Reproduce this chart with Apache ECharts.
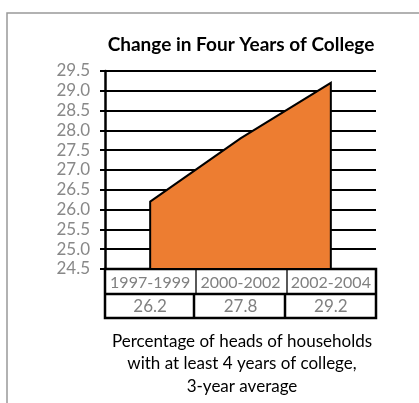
<!DOCTYPE html>
<html>
<head>
<meta charset="utf-8">
<script src="https://cdn.jsdelivr.net/npm/echarts@6/dist/echarts.min.js"></script>
<style>
  html, body { margin: 0; padding: 0; background: #fff; }
  #chart { width: 419px; height: 403px; }
</style>
</head>
<body>
<div id="chart"></div>
<script>
  // data
  var periods = ['1997-1999', '2000-2002', '2002-2004'];
  var percents = [26.2, 27.8, 29.2];
  var yMin = 24.5, yMax = 29.5, yStep = 0.5;

  var FONT = 'Lato, "Open Sans", sans-serif';
  var gridLeft = 105, gridRight = 376, gridTop = 71, gridBottom = 269;

  var chart = echarts.init(document.getElementById('chart'));

  chart.setOption({
    animation: false,
    title: {
      text: 'Change in Four Years of College',
      left: 236, top: 30, textAlign: 'center',
      textStyle: { fontFamily: FONT, fontSize: 19, fontWeight: 'bold', color: '#000' }
    },
    grid: {
      left: gridLeft, right: 419 - gridRight, top: gridTop, bottom: 403 - gridBottom
    },
    xAxis: {
      type: 'category',
      data: periods,
      boundaryGap: true,
      axisLine: { show: true, lineStyle: { color: '#000', width: 2 } },
      axisTick: { show: false },
      axisLabel: { show: false }
    },
    yAxis: {
      type: 'value',
      min: yMin, max: yMax, interval: yStep,
      axisLine: { show: true, lineStyle: { color: '#000', width: 2.5 } },
      axisTick: { show: true, length: 5, lineStyle: { color: '#000', width: 2 } },
      axisLabel: {
        margin: 15, color: '#888', fontFamily: FONT, fontSize: 17,
        formatter: function (v) { return v.toFixed(1); }
      },
      splitLine: { show: true, lineStyle: { color: '#000', width: 2 } }
    },
    series: [{
      type: 'custom',
      data: percents.map(function (v, i) { return [i, v]; }),
      z: 5,
      renderItem: function (params, api) {
        if (params.dataIndex !== 0) return;
        var pts = percents.map(function (v, i) { return api.coord([i, v]); });
        var last = percents.length - 1;
        pts.push(api.coord([last, yMin]));
        pts.push(api.coord([0, yMin]));
        return {
          type: 'polygon',
          shape: { points: pts },
          style: { fill: '#ED7D31', stroke: '#000', lineWidth: 2, lineJoin: 'miter' }
        };
      }
    }]
  });

  // table below the axis: periods and values, columns aligned to the category bands
  var band = (gridRight - gridLeft) / periods.length;
  var row1Top = gridBottom, row1Bot = 294, row2Bot = 318;
  var g = [];
  // frame around the whole chart
  g.push({ type: 'polyline', shape: { points: [[7, 403], [7, 13], [419, 13]] },
    style: { fill: null, stroke: '#999', lineWidth: 1.5 } });
  periods.forEach(function (p, i) {
    var cx = chart.convertToPixel({ xAxisIndex: 0 }, i);
    g.push({ type: 'text', style: { text: p, x: cx, y: (row1Top + row1Bot) / 2 + 1,
      align: 'center', verticalAlign: 'middle', fill: '#808080', font: '16px ' + FONT } });
    g.push({ type: 'text', style: { text: percents[i].toFixed(1), x: cx, y: (row1Bot + row2Bot) / 2 + 1,
      align: 'center', verticalAlign: 'middle', fill: '#808080', font: '17px ' + FONT } });
    if (i > 0) {
      var bx = Math.round(gridLeft + band * i);
      g.push({ type: 'line', shape: { x1: bx + 1, y1: row1Top, x2: bx + 1, y2: row1Bot },
        style: { stroke: '#000', lineWidth: 1.3 } });
      g.push({ type: 'line', shape: { x1: bx - 1, y1: row1Bot, x2: bx - 1, y2: row2Bot },
        style: { stroke: '#000', lineWidth: 2.5 } });
    }
  });
  g.push({ type: 'rect', shape: { x: gridLeft, y: row1Top, width: gridRight - gridLeft, height: row2Bot - row1Top },
    style: { fill: null, stroke: '#000', lineWidth: 2.5 } });
  g.push({ type: 'line', shape: { x1: gridLeft, y1: row1Bot, x2: gridRight, y2: row1Bot },
    style: { stroke: '#000', lineWidth: 2.5 } });
  // caption
  g.push({ type: 'text', style: {
    text: 'Percentage of heads of households\nwith at least 4 years of college,\n3-year average',
    x: 242, y: 330, align: 'center', verticalAlign: 'top', lineHeight: 22.5,
    fill: '#000', font: '17px ' + FONT } });
  chart.setOption({ graphic: g });
</script>
</body>
</html>
